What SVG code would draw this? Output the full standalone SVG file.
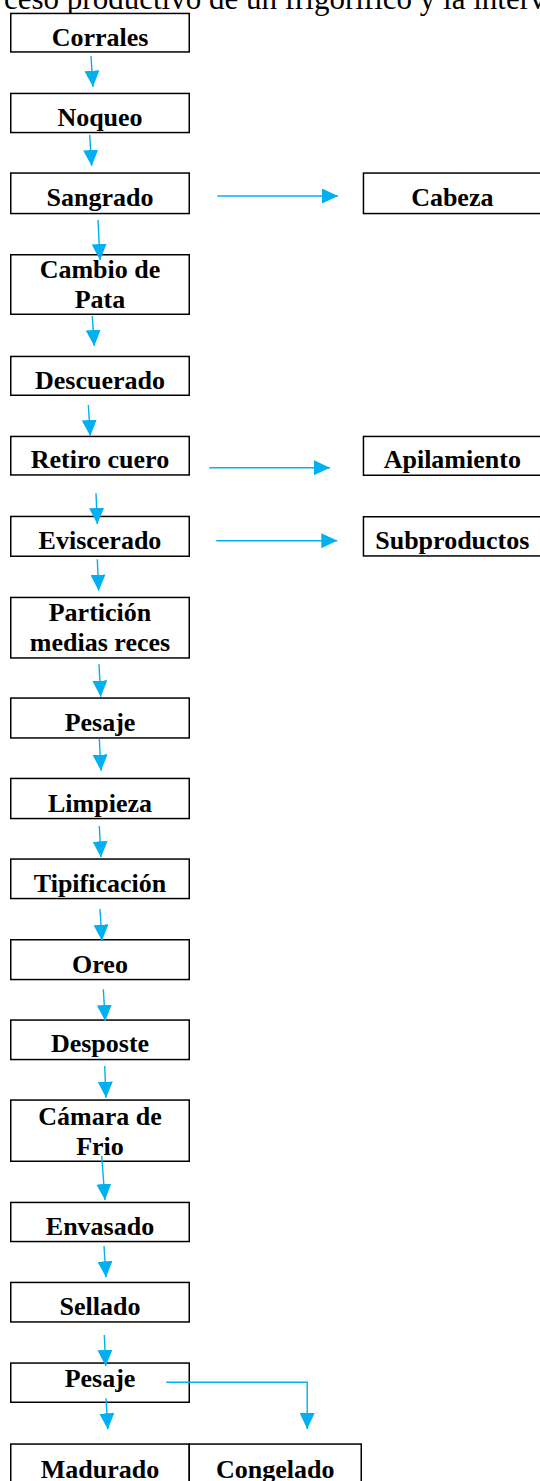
<svg xmlns="http://www.w3.org/2000/svg" width="540" height="1481" viewBox="0 0 540 1481">
<defs>
<style>
.box{fill:#fff;stroke:#000;stroke-width:1.5}
.t{font-family:"Liberation Serif","Times New Roman",serif;font-weight:bold;font-size:26px;fill:#000;text-anchor:middle}
.title{font-family:"Liberation Serif","Times New Roman",serif;font-size:31px;fill:#000}
.c{fill:none;stroke:#00B0F0;stroke-width:1.4;marker-end:url(#ah)}
</style>
<marker id="ah" markerUnits="userSpaceOnUse" viewBox="0 0 16 15" markerWidth="16" markerHeight="15" refX="16" refY="7.5" orient="auto">
<path d="M0,0 L16,7.5 L0,15 z" fill="#00B0F0"/>
</marker>
</defs>
<rect width="540" height="1481" fill="#fff"/>
<text class="title" x="4" y="9">ceso productivo de un frigorífico y la interv</text>

<g id="n-corrales"><rect class="box" x="10.75" y="13.45" width="178.5" height="38.5"/><text class="t" x="100" y="46">Corrales</text></g>
<g id="n-noqueo"><rect class="box" x="10.75" y="93.45" width="178.5" height="39.1"/><text class="t" x="100" y="126">Noqueo</text></g>
<g id="n-sangrado"><rect class="box" x="10.75" y="173.05" width="178.5" height="40.5"/><text class="t" x="100" y="206">Sangrado</text></g>
<g id="n-cabeza"><rect class="box" x="363.45" y="173.05" width="185" height="40.5"/><text class="t" x="452.3" y="206">Cabeza</text></g>
<g id="n-cambio"><rect class="box" x="10.75" y="254.75" width="178.5" height="59.5"/><text class="t" x="100" y="278.3">Cambio de</text><text class="t" x="100" y="308.3">Pata</text></g>
<g id="n-descuerado"><rect class="box" x="10.75" y="356.45" width="178.5" height="38.8"/><text class="t" x="100" y="389">Descuerado</text></g>
<g id="n-retiro"><rect class="box" x="10.75" y="436.45" width="178.5" height="38.5"/><text class="t" x="100" y="468.3">Retiro cuero</text></g>
<g id="n-apilamiento"><rect class="box" x="363.45" y="436.45" width="185" height="38.8"/><text class="t" x="452.3" y="468.3">Apilamiento</text></g>
<g id="n-eviscerado"><rect class="box" x="10.75" y="516.45" width="178.5" height="39.8"/><text class="t" x="100" y="549.3">Eviscerado</text></g>
<g id="n-subproductos"><rect class="box" x="363.45" y="516.75" width="185" height="39.2"/><text class="t" x="452.3" y="549.3">Subproductos</text></g>
<g id="n-particion"><rect class="box" x="10.75" y="597.45" width="178.5" height="60.5"/><text class="t" x="100" y="621">Partición</text><text class="t" x="100" y="650.7">medias reces</text></g>
<g id="n-pesaje1"><rect class="box" x="10.75" y="698.05" width="178.5" height="39.9"/><text class="t" x="100" y="730.7">Pesaje</text></g>
<g id="n-limpieza"><rect class="box" x="10.75" y="778.45" width="178.5" height="40.1"/><text class="t" x="100" y="811.7">Limpieza</text></g>
<g id="n-tipificacion"><rect class="box" x="10.75" y="859.05" width="178.5" height="39.5"/><text class="t" x="100" y="891.7">Tipificación</text></g>
<g id="n-oreo"><rect class="box" x="10.75" y="939.75" width="178.5" height="39.8"/><text class="t" x="100" y="972.7">Oreo</text></g>
<g id="n-desposte"><rect class="box" x="10.75" y="1020.05" width="178.5" height="39.5"/><text class="t" x="100" y="1051.7">Desposte</text></g>
<g id="n-camara"><rect class="box" x="10.75" y="1100.05" width="178.5" height="61.2"/><text class="t" x="100" y="1125">Cámara de</text><text class="t" x="100" y="1155">Frio</text></g>
<g id="n-envasado"><rect class="box" x="10.75" y="1202.45" width="178.5" height="39.1"/><text class="t" x="100" y="1235">Envasado</text></g>
<g id="n-sellado"><rect class="box" x="10.75" y="1282.45" width="178.5" height="39.5"/><text class="t" x="100" y="1315">Sellado</text></g>
<g id="n-pesaje2"><rect class="box" x="10.75" y="1363.05" width="178.5" height="39.2"/><text class="t" x="100" y="1387.3">Pesaje</text></g>
<g id="n-madurado"><rect class="box" x="10.75" y="1444.05" width="178.5" height="60"/><text class="t" x="100" y="1478">Madurado</text></g>
<g id="n-congelado"><rect class="box" x="189.25" y="1444.05" width="172" height="60"/><text class="t" x="275.3" y="1478">Congelado</text></g>

<g id="connectors">
<line class="c" x1="91" y1="56" x2="93" y2="86.7"/>
<line class="c" x1="89.7" y1="135" x2="91.7" y2="166"/>
<line class="c" x1="98" y1="220" x2="100" y2="260"/>
<line class="c" x1="217.3" y1="196" x2="338" y2="196"/>
<line class="c" x1="92.3" y1="316" x2="94.3" y2="346"/>
<line class="c" x1="88.3" y1="405" x2="90.3" y2="436"/>
<line class="c" x1="209.3" y1="467.7" x2="330" y2="467.7"/>
<line class="c" x1="96" y1="493.3" x2="97.3" y2="524"/>
<line class="c" x1="216.3" y1="540.7" x2="337.3" y2="540.7"/>
<line class="c" x1="97.3" y1="559.3" x2="98.7" y2="590.7"/>
<line class="c" x1="99" y1="664.3" x2="100.7" y2="696.7"/>
<line class="c" x1="99.3" y1="738.7" x2="101" y2="770.7"/>
<line class="c" x1="99.3" y1="826" x2="101" y2="857.3"/>
<line class="c" x1="100" y1="909" x2="102" y2="940.7"/>
<line class="c" x1="103.3" y1="989.3" x2="105.3" y2="1021"/>
<line class="c" x1="104.7" y1="1066" x2="106" y2="1097.7"/>
<line class="c" x1="101.7" y1="1156" x2="105" y2="1200"/>
<line class="c" x1="104" y1="1246" x2="106" y2="1277.3"/>
<line class="c" x1="104.3" y1="1335" x2="105.7" y2="1366"/>
<line class="c" x1="106" y1="1398.3" x2="107.8" y2="1429.3"/>
<polyline class="c" points="166.3,1382.3 307.2,1382.3 307.2,1429"/>
</g>
</svg>
